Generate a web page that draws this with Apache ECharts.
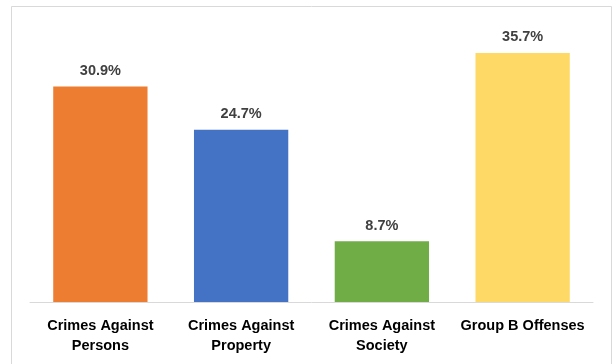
<!DOCTYPE html>
<html><head><meta charset="utf-8">
<script src="https://cdn.jsdelivr.net/npm/echarts@6/dist/echarts.min.js"></script>
<style>html,body{margin:0;padding:0;background:#fff}#c{width:616px;height:364px}</style>
</head><body><div id="c"></div>
<script>
const categories = ['Crimes Against\nPersons', 'Crimes Against\nProperty', 'Crimes Against\nSociety', 'Group B Offenses'];
const values = [30.9, 24.7, 8.7, 35.7];
const colors = ['#ED7D31', '#4472C4', '#70AD47', '#FFD966'];

const chart = echarts.init(document.getElementById('c'), null, {renderer: 'canvas'});
chart.setOption({
  animation: false,
  backgroundColor: '#fff',
  graphic: [{
    type: 'rect', shape: {x: 11.5, y: 6.5, width: 600, height: 400},
    style: {fill: 'none', stroke: '#D9D9D9', lineWidth: 1}, silent: true
  }],
  grid: {left: 30, right: 23, top: 23, bottom: 62},
  xAxis: {
    type: 'category', data: categories,
    axisLine: {lineStyle: {color: '#D9D9D9', width: 1}},
    axisTick: {show: false},
    axisLabel: {color: '#000', fontFamily: 'Liberation Sans', fontWeight: 'bold', fontSize: 14.5, lineHeight: 20, margin: 14, interval: 0}
  },
  yAxis: {type: 'value', min: 0, max: 40, show: false, splitLine: {show: false}},
  series: [{
    type: 'bar', barCategoryGap: '33%',
    data: values.map((v, i) => ({value: v, itemStyle: {color: colors[i]}})),
    label: {show: true, position: 'top', distance: 8, formatter: p => p.value.toFixed(1) + '%',
      color: '#404040', fontFamily: 'Liberation Sans', fontWeight: 'bold', fontSize: 14.5}
  }]
});
</script></body></html>
